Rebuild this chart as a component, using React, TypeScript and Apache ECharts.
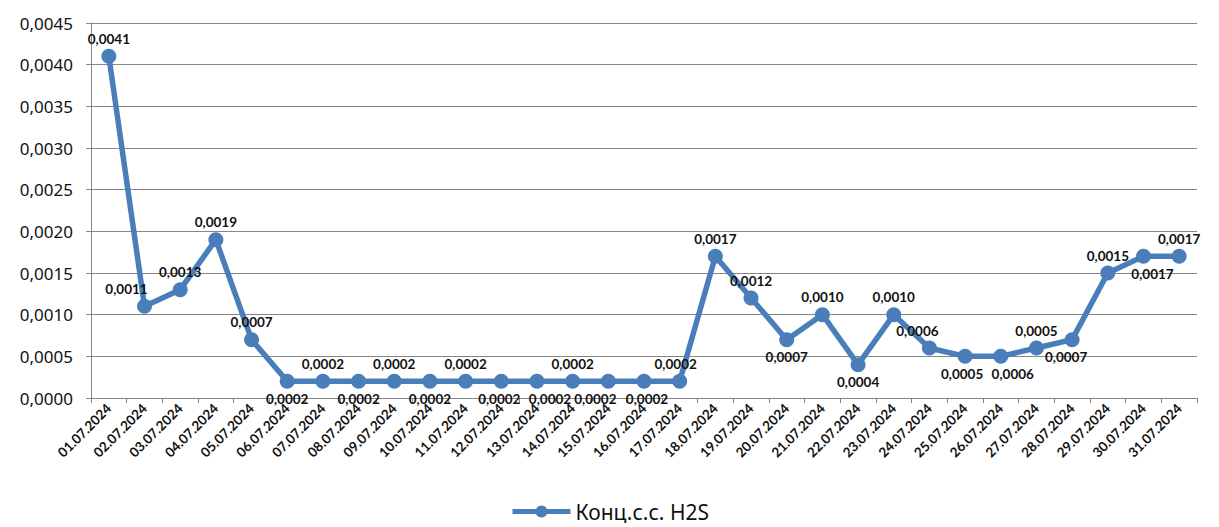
import React, { useEffect, useRef } from "react";
import * as echarts from "echarts";

const categories = [
  "01.07.2024", "02.07.2024", "03.07.2024", "04.07.2024", "05.07.2024", "06.07.2024",
  "07.07.2024", "08.07.2024", "09.07.2024", "10.07.2024", "11.07.2024", "12.07.2024",
  "13.07.2024", "14.07.2024", "15.07.2024", "16.07.2024", "17.07.2024", "18.07.2024",
  "19.07.2024", "20.07.2024", "21.07.2024", "22.07.2024", "23.07.2024", "24.07.2024",
  "25.07.2024", "26.07.2024", "27.07.2024", "28.07.2024", "29.07.2024", "30.07.2024",
  "31.07.2024",
];

const h2sValues = [
  0.0041, 0.0011, 0.0013, 0.0019, 0.0007, 0.0002, 0.0002, 0.0002, 0.0002, 0.0002,
  0.0002, 0.0002, 0.0002, 0.0002, 0.0002, 0.0002, 0.0002, 0.0017, 0.0012, 0.0007,
  0.001, 0.0004, 0.001, 0.0006, 0.0005, 0.0005, 0.0006, 0.0007, 0.0015, 0.0017,
  0.0017,
];

// data labels as printed in the reference
const pointLabels = [
  "0,0041", "0,0011", "0,0013", "0,0019", "0,0007", "0,0002", "0,0002", "0,0002",
  "0,0002", "0,0002", "0,0002", "0,0002", "0,0002", "0,0002", "0,0002", "0,0002",
  "0,0002", "0,0017", "0,0012", "0,0007", "0,0010", "0,0004", "0,0010", "0,0006",
  "0,0005", "0,0006", "0,0005", "0,0007", "0,0015", "0,0017", "0,0017",
];

const seriesName = "Конц.с.с. H2S";

// label placement (style)
const labelSide = [
  "top", "top", "top", "top", "top", "bottom", "top", "bottom", "top", "bottom",
  "top", "bottom", "bottom", "top", "bottom", "bottom", "top", "top", "top", "bottom",
  "top", "bottom", "top", "top", "bottom", "bottom", "top", "bottom", "top", "bottom",
  "top",
];
const labelShiftX: Record<number, number> = {
  1: -18, 11: -2, 12: 13, 14: -13, 15: 3, 16: -4, 23: -12, 24: -3, 25: 12, 27: -6, 29: 9,
};

const FONT = "Lato, 'Noto Sans', sans-serif";
const FONT2 = "'Noto Sans', sans-serif";

export default function App() {
  const ref = useRef<HTMLDivElement>(null);
  useEffect(() => {
    if (!ref.current) return;
    const chart = echarts.init(ref.current, null, { renderer: "svg" });
    const data = h2sValues.map((v, i) => ({
      value: v,
      label: { position: labelSide[i] as any },
    }));
    chart.setOption({
      animation: false,
      backgroundColor: "#ffffff",
      grid: { left: 91, right: 22, top: 23, bottom: 129, containLabel: false },
      legend: {
        bottom: 0,
        left: "center",
        data: [seriesName],
        itemWidth: 58,
        itemHeight: 15,
        itemGap: 4,
        lineStyle: { width: 5 },
        textStyle: { fontFamily: FONT2, fontSize: 21, color: "#111" },
      },
      xAxis: {
        type: "category",
        data: categories,
        boundaryGap: true,
        axisLine: { lineStyle: { color: "#868686", width: 1 } },
        axisTick: { show: true, length: 5, alignWithLabel: false, lineStyle: { color: "#868686" } },
        axisLabel: {
          interval: 0,
          rotate: 45,
          fontFamily: FONT,
          fontSize: 13.5,
          fontWeight: "bold",
          color: "#111",
          margin: 8,
        },
      },
      yAxis: {
        type: "value",
        min: 0,
        max: 0.0045,
        interval: 0.0005,
        axisLine: { show: true, lineStyle: { color: "#868686", width: 1 } },
        axisTick: { show: true, length: 5, lineStyle: { color: "#868686" } },
        splitLine: { lineStyle: { color: "#868686", width: 1 } },
        axisLabel: {
          fontFamily: FONT2,
          fontSize: 17,
          color: "#111",
          margin: 18,
          formatter: (v: number) => v.toFixed(4).replace(".", ","),
        },
      },
      series: [
        {
          name: seriesName,
          type: "line",
          data,
          symbol: "circle",
          symbolSize: 15,
          lineStyle: { color: "#4A7EBB", width: 5.5 },
          itemStyle: { color: "#4A7EBB" },
          label: {
            show: true,
            distance: 3,
            fontFamily: FONT,
            fontSize: 13.5,
            fontWeight: "bold",
            color: "#111",
            formatter: (p: any) => pointLabels[p.dataIndex],
          },
          labelLayout: (p: any) => ({
            dx: labelShiftX[p.dataIndex] || 0,
            hideOverlap: false,
          }),
        },
      ],
    });
    return () => chart.dispose();
  }, []);
  return (
    <div
      ref={ref}
      style={{ position: "fixed", left: 0, top: 0, width: 1219, height: 527 }}
    />
  );
}
